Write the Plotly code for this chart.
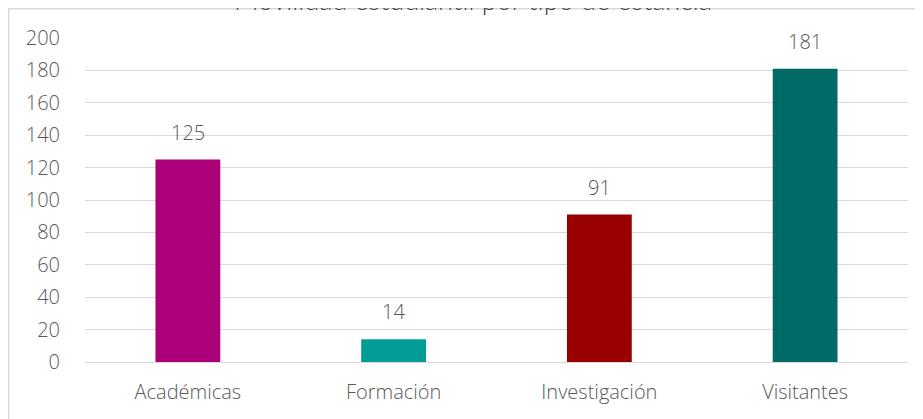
import plotly.graph_objects as go

categories = ["Académicas", "Formación", "Investigación", "Visitantes"]
values = [125, 14, 91, 181]
colors = ["#AC0078", "#009C97", "#990000", "#006A66"]
title_text = "Movilidad estudiantil por tipo de estancia"
y_ticks = [0, 20, 40, 60, 80, 100, 120, 140, 160, 180, 200]

FONT = "'Open Sans', Lato, sans-serif"
TFONT = "Lato, 'Open Sans', sans-serif"
GRAY = "#595959"
W = 300

fig = go.Figure()
fig.add_trace(go.Bar(
    x=categories, y=values, marker_color=colors, marker_line_width=0,
    width=0.315, hoverinfo="x+y",
))

for c, v in zip(categories, values):
    fig.add_annotation(x=c, y=v, text=str(v), showarrow=False,
                       yanchor="bottom", yshift=12,
                       font=dict(family=FONT, size=20, color=GRAY, weight=W))

# title (partly cut off at top as in the reference)
fig.add_annotation(xref="paper", yref="paper", x=0.4715, y=1.119,
                   text=title_text, showarrow=False, yanchor="middle",
                   font=dict(family=TFONT, size=27, color="#404040"))

# chart frame
fig.add_shape(type="rect", xref="paper", yref="paper",
              x0=-0.0927, x1=1.2, y0=-0.5, y1=1.0903,
              line=dict(color="#D9D9D9", width=1.5), layer="below")

fig.update_layout(
    width=923, height=419,
    margin=dict(l=77, r=23, t=30, b=65),
    paper_bgcolor="white", plot_bgcolor="white",
    showlegend=False,
    font=dict(family=FONT, size=20, color=GRAY, weight=W),
    xaxis=dict(showgrid=False, showline=True, linecolor="#D9D9D9", linewidth=1,
               ticks="outside", tickcolor="rgba(0,0,0,0)", ticklen=12,
               tickfont=dict(family=FONT, size=20, color=GRAY, weight=W),
               fixedrange=True),
    yaxis=dict(range=[0, 200], tickvals=y_ticks, showgrid=True,
               gridcolor="#D9D9D9", gridwidth=1, zeroline=False,
               ticks="outside", tickcolor="rgba(0,0,0,0)", ticklen=20,
               tickfont=dict(family=FONT, size=20, color=GRAY, weight=W),
               fixedrange=True),
)

fig.write_html("out.html")
